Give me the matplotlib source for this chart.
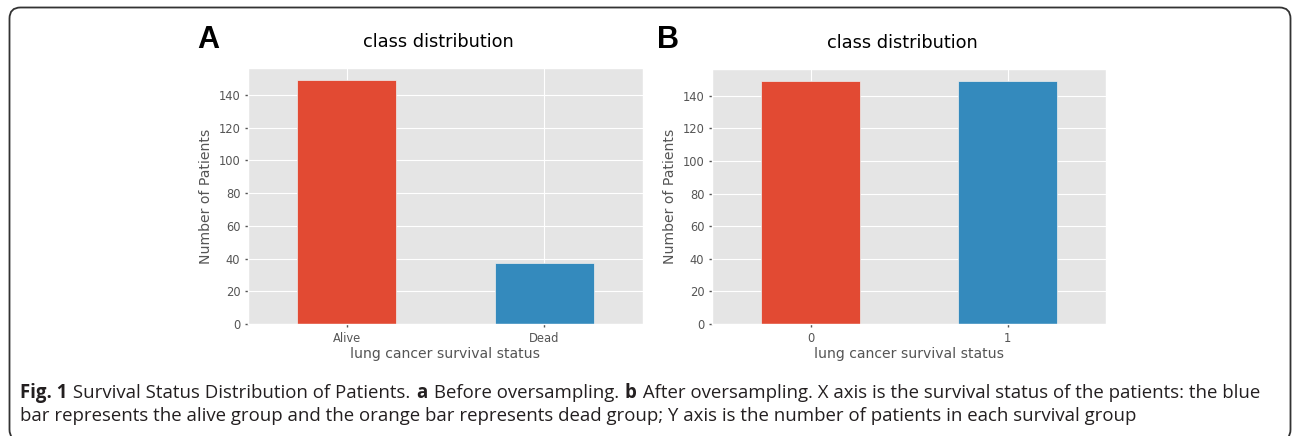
import matplotlib
matplotlib.use("Agg")
from matplotlib import pyplot as plt
from matplotlib.patches import FancyBboxPatch

status_a = ["Alive", "Dead"]
counts_a = [149, 37]
status_b = ["0", "1"]
counts_b = [149, 149]
bar_colors = ["#E24A33", "#348ABD"]

caption_line1 = [
    ("Fig. 1", "bold"),
    (" Survival Status Distribution of Patients. ", "normal"),
    ("a", "bold"),
    (" Before oversampling. ", "normal"),
    ("b", "bold"),
    (" After oversampling. X axis is the survival status of the patients: the blue", "normal"),
]
caption_line2 = "bar represents the alive group and the orange bar represents dead group; Y axis is the number of patients in each survival group"

W, H = 1292, 436


def px_axes(fig, left, top, right, bottom):
    return fig.add_axes([left / W, 1 - bottom / H, (right - left) / W, (bottom - top) / H])


def class_panel(ax, labels, counts):
    x = list(range(len(labels)))
    ax.bar(x, counts, width=0.5, color=bar_colors, edgecolor="#EEEEEE", linewidth=0.5)
    ax.set_xlim(-0.5, len(labels) - 0.5)
    ax.set_ylim(0, max(counts) * 1.05)
    ax.set_xticks(x)
    ax.set_xticklabels(labels, rotation=0)
    ax.set_yticks(range(0, 141, 20))
    ax.tick_params(length=2.5, width=1, pad=3)
    ax.set_xlabel("lung cancer survival status", fontsize=10.1, labelpad=2)
    ax.set_ylabel("Number of Patients", fontsize=10.1, labelpad=4)
    ax.set_title("class distribution", fontsize=12.8, color="black", pad=15, x=0.483)


def main():
    plt.style.use("ggplot")
    plt.rcParams["font.family"] = ["DejaVu Sans"]
    plt.rcParams["font.size"] = 8.3

    fig = plt.figure(figsize=(12.92, 4.36), dpi=100)

    # page background with the rounded frame, in pixel coordinates
    bg = fig.add_axes([0, 0, 1, 1], zorder=-5)
    bg.set_xlim(0, W)
    bg.set_ylim(H, 0)
    bg.axis("off")
    bg.add_patch(FancyBboxPatch((9.5, 7.5), 1281, 433,
                                boxstyle="round,pad=0,rounding_size=11",
                                facecolor="white", edgecolor="#333333", linewidth=1.3))

    ax_a = px_axes(fig, 248, 68, 643, 324)
    ax_b = px_axes(fig, 712, 69, 1106, 324)
    class_panel(ax_a, status_a, counts_a)
    class_panel(ax_b, status_b, counts_b)

    bg.text(197, 48, "A", fontsize=22, fontweight="bold", family="Liberation Sans",
            color="black", va="baseline")
    bg.text(657, 48, "B", fontsize=22, fontweight="bold", family="Liberation Sans",
            color="black", va="baseline")

    renderer = fig.canvas.get_renderer()
    x = 20
    for text, weight in caption_line1:
        t = bg.text(x, 398, text, fontsize=13.4, family="Open Sans", fontweight=weight,
                    color="#231f20", va="baseline")
        x += t.get_window_extent(renderer).width + 1
    bg.text(20, 421, caption_line2, fontsize=13.4, family="Open Sans",
            color="#231f20", va="baseline")

    fig.savefig("out.png", dpi=100)


if __name__ == "__main__":
    main()
